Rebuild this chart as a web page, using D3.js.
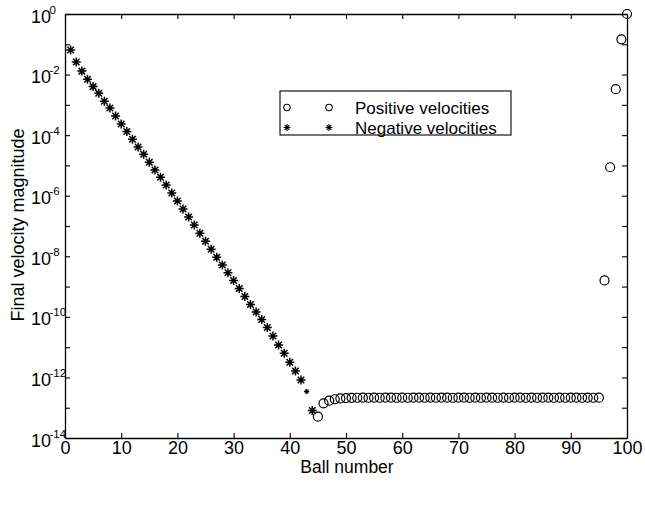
<!DOCTYPE html>
<html>
<head>
<meta charset="utf-8">
<script src="https://cdn.jsdelivr.net/npm/d3@7"></script>
<style>
  html, body { margin: 0; padding: 0; background: #fff; }
  svg { display: block; font-family: "Liberation Sans", Arial, Helvetica, sans-serif; }
</style>
</head>
<body>
<svg id="chart" width="645" height="506"></svg>
<script>
// Balls 1..44 end with negative velocity, balls 45..100 with positive velocity.
const negBalls = [1,2,3,4,5,6,7,8,9,10,11,12,13,14,15,16,17,18,19,20,21,22,
  23,24,25,26,27,28,29,30,31,32,33,34,35,36,37,38,39,40,41,42,43,44];
const negSpeeds = [6.5e-2,2.6e-2,1.3e-2,7.0e-3,4.0e-3,2.4e-3,1.31e-3,7.9e-4,
  4.3e-4,2.33e-4,1.32e-4,7.3e-5,4.06e-5,2.33e-5,1.27e-5,7.06e-6,4.06e-6,
  2.26e-6,1.23e-6,6.7e-7,3.64e-7,1.98e-7,1.08e-7,5.74e-8,3.13e-8,1.70e-8,
  9.27e-9,5.16e-9,2.87e-9,1.59e-9,8.64e-10,4.70e-10,2.56e-10,1.45e-10,
  8.18e-11,4.45e-11,2.33e-11,1.18e-11,6.27e-12,3.16e-12,1.63e-12,8.23e-13,
  3.43e-13,8.09e-14];

const posBalls = [45,46,47,48,49,50,51,52,53,54,55,56,57,58,59,60,61,62,63,64,
  65,66,67,68,69,70,71,72,73,74,75,76,77,78,79,80,81,82,83,84,85,86,87,88,89,
  90,91,92,93,94,95,96,97,98,99,100];
const posSpeeds = [5.06e-14,1.40e-13,1.71e-13,1.90e-13,2.02e-13,2.08e-13,
  2.12e-13,2.13e-13,2.14e-13,2.13e-13,2.14e-13,2.13e-13,2.14e-13,2.14e-13,
  2.13e-13,2.14e-13,2.13e-13,2.14e-13,2.14e-13,2.13e-13,2.14e-13,2.13e-13,
  2.14e-13,2.14e-13,2.13e-13,2.14e-13,2.14e-13,2.13e-13,2.14e-13,2.13e-13,
  2.14e-13,2.14e-13,2.13e-13,2.14e-13,2.13e-13,2.14e-13,2.14e-13,2.13e-13,
  2.14e-13,2.13e-13,2.14e-13,2.14e-13,2.13e-13,2.14e-13,2.13e-13,2.14e-13,
  2.14e-13,2.13e-13,2.14e-13,2.13e-13,2.15e-13,1.6e-9,8.7e-6,3.3e-3,1.46e-1,1.0];

// Ball 43 shows up with a reduced marker
const smallMarkerBalls = [43];

const xTicks = [0,10,20,30,40,50,60,70,80,90,100];
const yTicks = [1e0,1e-1,1e-2,1e-3,1e-4,1e-5,1e-6,1e-7,1e-8,1e-9,1e-10,1e-11,1e-12,1e-13,1e-14];
const yLabelExps = [0,-2,-4,-6,-8,-10,-12,-14];

const legendLabels = ["Positive velocities", "Negative velocities"];

const FONT = "'Liberation Sans', Arial, Helvetica, sans-serif";
const svg = d3.select("#chart");
const L = 65, R = 627, T = 14, B = 438;

const x = d3.scaleLinear().domain([0, 100]).range([L, R]);
const y = d3.scaleLog().domain([1e-14, 1]).range([B, T]);

// Box axes with inward ticks on all four sides
const axisG = svg.append("g").attr("class", "axes");

const axBottom = axisG.append("g").attr("transform", `translate(0,${B})`)
  .call(d3.axisBottom(x).tickValues(xTicks).tickSizeInner(-5).tickSizeOuter(0).tickPadding(3));
axisG.append("g").attr("transform", `translate(0,${T})`)
  .call(d3.axisTop(x).tickValues(xTicks).tickSizeInner(-5).tickSizeOuter(0).tickFormat(""));
const axLeft = axisG.append("g").attr("transform", `translate(${L},0)`)
  .call(d3.axisLeft(y).tickValues(yTicks).tickSizeInner(-5).tickSizeOuter(0).tickFormat(""));
axisG.append("g").attr("transform", `translate(${R},0)`)
  .call(d3.axisRight(y).tickValues(yTicks).tickSizeInner(-5).tickSizeOuter(0).tickFormat(""));

axisG.selectAll(".domain").attr("stroke", "#000").attr("stroke-width", 1.3);
axisG.selectAll(".tick line").attr("stroke", "#000").attr("stroke-width", 1.1);
axBottom.selectAll(".tick text")
  .attr("font-size", 18).attr("fill", "#000")
  .attr("font-family", FONT);

// Power-of-ten labels on every other decade
axLeft.selectAll(".tick").each(function(d) {
  const e = Math.round(Math.log10(d));
  if (!yLabelExps.includes(e)) return;
  const t = d3.select(this).append("text")
    .attr("x", 31 - L).attr("y", 8)
    .attr("text-anchor", "start")
    .attr("fill", "#000")
    .attr("font-size", 18)
    .attr("font-family", FONT);
  t.append("tspan").text("10");
  t.append("tspan").attr("font-size", 11.5).attr("dy", -9).attr("dx", -1.5)
    .text(e === 0 ? "0" : "-" + Math.abs(e));
});

// Axis titles
svg.append("text")
  .attr("x", 347).attr("y", 473)
  .attr("text-anchor", "middle").attr("font-size", 17.5).attr("fill", "#000")
  .text("Ball number");
svg.append("text")
  .attr("transform", `translate(24,225) rotate(-90)`)
  .attr("text-anchor", "middle").attr("font-size", 18).attr("fill", "#000")
  .text("Final velocity magnitude");

// Asterisk marker: horizontal, vertical and two diagonal strokes
function star(sel, s, w) {
  const p = `M${-s},0L${s},0M0,${-s}L0,${s}` +
    `M${-s * 0.72},${-s * 0.72}L${s * 0.72},${s * 0.72}` +
    `M${-s * 0.72},${s * 0.72}L${s * 0.72},${-s * 0.72}`;
  sel.append("path").attr("d", p).attr("stroke", "#000").attr("stroke-width", w).attr("fill", "none");
}

const negData = negBalls.map((b, i) => ({ b, v: negSpeeds[i] }));
const posData = posBalls.map((b, i) => ({ b, v: posSpeeds[i] }));

const marks = svg.append("g").attr("class", "marks");

marks.selectAll("g.neg").data(negData).enter().append("g")
  .attr("class", "neg")
  .attr("transform", d => `translate(${x(d.b)},${y(d.v)})`)
  .each(function(d) {
    const small = smallMarkerBalls.includes(d.b);
    star(d3.select(this), small ? 2.6 : 4.5, small ? 1.2 : 1.5);
  });

marks.selectAll("circle.pos").data(posData).enter().append("circle")
  .attr("class", "pos")
  .attr("cx", d => x(d.b)).attr("cy", d => y(d.v))
  .attr("r", 4.5)
  .attr("fill", "none").attr("stroke", "#000").attr("stroke-width", 1.2);

// Legend
const lg = svg.append("g").attr("class", "legend");
lg.append("rect")
  .attr("x", 280).attr("y", 91).attr("width", 231).attr("height", 44)
  .attr("fill", "#fff").attr("stroke", "#000").attr("stroke-width", 1.1);
const rows = [107.5, 127.5];
[287, 329].forEach(cx => {
  lg.append("circle").attr("cx", cx).attr("cy", rows[0]).attr("r", 3.2)
    .attr("fill", "none").attr("stroke", "#000").attr("stroke-width", 1.1);
  const sg = lg.append("g").attr("transform", `translate(${cx},${rows[1]})`);
  star(sg, 3.4, 1.1);
});
legendLabels.forEach((txt, i) => {
  lg.append("text").attr("x", 355).attr("y", rows[i] + 6)
    .attr("font-size", 17).attr("fill", "#000").text(txt);
});
</script>
</body>
</html>
